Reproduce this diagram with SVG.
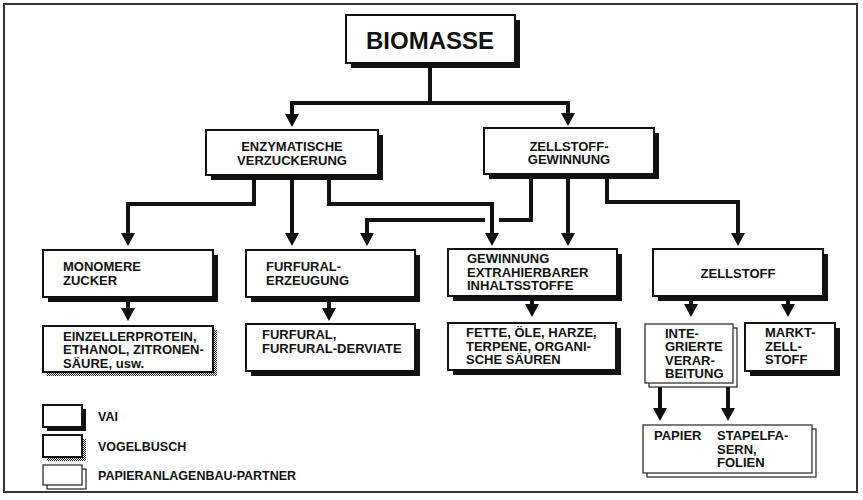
<svg xmlns="http://www.w3.org/2000/svg" width="863" height="500" viewBox="0 0 863 500">
<defs>
<pattern id="dots" width="2" height="2" patternUnits="userSpaceOnUse">
<rect width="2" height="2" fill="#fff"/>
<rect width="1" height="1" fill="#222"/>
<rect x="1" y="1" width="1" height="1" fill="#222"/>
</pattern>
<marker id="ah" markerUnits="userSpaceOnUse" markerWidth="14" markerHeight="14" viewBox="0 -7 14 14" refX="1" refY="0" orient="auto">
<path d="M0,-7 L13,0 L0,7 z" fill="#111"/>
</marker>
<style>
.box{fill:#fff;stroke:#111;stroke-width:2}
.sh{fill:#111}
.dsh{fill:url(#dots)}
.pap{fill:#fff;stroke:#222;stroke-width:1.2}
.t{font-family:"Liberation Sans",Arial,sans-serif;font-weight:bold;font-size:13px;fill:#111}
.m{text-anchor:middle}
.c{fill:none;stroke:#111;stroke-width:4;stroke-linejoin:miter}
</style>
</defs>
<rect x="0" y="0" width="863" height="500" fill="#fff"/>
<rect x="4" y="4" width="853" height="488" fill="none" stroke="#333" stroke-width="2"/>

<g id="connectors">
<path class="c" d="M430,63 V103"/>
<path class="c" d="M430,103 H292 V115" marker-end="url(#ah)"/>
<path class="c" d="M430,103 H568 V114" marker-end="url(#ah)"/>
<path class="c" d="M254,175 V204 H128 V234" marker-end="url(#ah)"/>
<path class="c" d="M292,175 V234" marker-end="url(#ah)"/>
<path class="c" d="M329,175 V204 H492 V234" marker-end="url(#ah)"/>
<path class="c" d="M531,175 V220 H499"/>
<path class="c" d="M485,220 H367 V234" marker-end="url(#ah)"/>
<path class="c" d="M568,175 V234" marker-end="url(#ah)"/>
<path class="c" d="M607,175 V202 H738 V234" marker-end="url(#ah)"/>
<path class="c" d="M128,297 V309" marker-end="url(#ah)"/>
<path class="c" d="M329,297 V309" marker-end="url(#ah)"/>
<path class="c" d="M532,296 V305" marker-end="url(#ah)"/>
<path class="c" d="M691,296 V305" marker-end="url(#ah)"/>
<path class="c" d="M788,296 V305" marker-end="url(#ah)"/>
<path class="c" d="M660,383 V409" marker-end="url(#ah)"/>
<path class="c" d="M728,383 V409" marker-end="url(#ah)"/>
</g>

<g id="biomasse">
<rect class="sh" x="351" y="20" width="169" height="48"/>
<rect class="box" x="346" y="15" width="169" height="48" stroke-width="2.5"/>
<text class="t m" x="430" y="49" style="font-size:24px">BIOMASSE</text>
</g>

<g id="enzymatische">
<rect class="sh" x="211" y="135" width="172" height="45"/>
<rect class="box" x="206" y="130" width="172" height="45"/>
<text class="t m" x="292" y="151">ENZYMATISCHE</text>
<text class="t m" x="292" y="164.5">VERZUCKERUNG</text>
</g>

<g id="zellstoffgewinnung">
<rect class="sh" x="489" y="133" width="170" height="46"/>
<rect class="box" x="484" y="128" width="170" height="46"/>
<text class="t m" x="569" y="150.5">ZELLSTOFF-</text>
<text class="t m" x="569" y="164">GEWINNUNG</text>
</g>

<g id="monomere">
<rect class="sh" x="48" y="255" width="170" height="47"/>
<rect class="box" x="43" y="250" width="170" height="47"/>
<text class="t" x="63" y="270.5">MONOMERE</text>
<text class="t" x="63" y="284.5">ZUCKER</text>
</g>

<g id="furfuralerzeugung">
<rect class="sh" x="251" y="255" width="169" height="47"/>
<rect class="box" x="246" y="250" width="169" height="47"/>
<text class="t" x="266" y="270.5">FURFURAL-</text>
<text class="t" x="266" y="284.5">ERZEUGUNG</text>
</g>

<g id="gewinnung">
<rect class="sh" x="453" y="254" width="169" height="47"/>
<rect class="box" x="448" y="249" width="169" height="47"/>
<text class="t" x="467" y="263">GEWINNUNG</text>
<text class="t" x="467" y="276.5">EXTRAHIERBARER</text>
<text class="t" x="467" y="290">INHALTSSTOFFE</text>
</g>

<g id="zellstoff">
<rect class="sh" x="658" y="254" width="170" height="47"/>
<rect class="box" x="653" y="249" width="170" height="47"/>
<text class="t m" x="738" y="278">ZELLSTOFF</text>
</g>

<g id="einzellerprotein">
<rect class="dsh" x="47" y="330" width="170" height="46"/>
<rect class="box" x="43" y="326" width="170" height="46" stroke-width="1.5"/>
<text class="t" x="63" y="340.5">EINZELLERPROTEIN,</text>
<text class="t" x="63" y="354">ETHANOL, ZITRONEN-</text>
<text class="t" x="63" y="367.5">SÄURE, usw.</text>
</g>

<g id="furfural">
<rect class="sh" x="251" y="329" width="169" height="47"/>
<rect class="box" x="246" y="324" width="169" height="47"/>
<text class="t" x="262" y="339">FURFURAL,</text>
<text class="t" x="262" y="353">FURFURAL-DERVIATE</text>
</g>

<g id="fette">
<rect class="sh" x="453" y="328" width="168" height="47"/>
<rect class="box" x="448" y="323" width="168" height="47"/>
<text class="t" x="466" y="337">FETTE, ÖLE, HARZE,</text>
<text class="t" x="466" y="350.5">TERPENE, ORGANI-</text>
<text class="t" x="466" y="364">SCHE SÄUREN</text>
</g>

<g id="integrierte">
<rect class="pap" x="649" y="328" width="88" height="59"/>
<rect class="pap" x="645" y="324" width="88" height="59"/>
<text class="t" x="665" y="337.5">INTE-</text>
<text class="t" x="665" y="351">GRIERTE</text>
<text class="t" x="665" y="364.5">VERAR-</text>
<text class="t" x="665" y="378">BEITUNG</text>
</g>

<g id="marktzellstoff">
<rect class="sh" x="750" y="328" width="90" height="48"/>
<rect class="box" x="745" y="323" width="90" height="48"/>
<text class="t" x="765" y="337">MARKT-</text>
<text class="t" x="765" y="350.5">ZELL-</text>
<text class="t" x="765" y="364">STOFF</text>
</g>

<g id="papier">
<rect class="pap" x="647" y="429" width="169" height="48"/>
<rect class="pap" x="643" y="425" width="169" height="48"/>
<text class="t" x="654" y="440">PAPIER</text>
<text class="t" x="717" y="440">STAPELFA-</text>
<text class="t" x="717" y="453.5">SERN,</text>
<text class="t" x="717" y="467">FOLIEN</text>
</g>

<g id="legend-vai">
<rect class="sh" x="47" y="409" width="39" height="22"/>
<rect class="box" x="43" y="405" width="39" height="22" stroke-width="1.5"/>
<text class="t" x="98" y="421" style="font-size:12.5px">VAI</text>
</g>
<g id="legend-vogelbusch">
<rect class="dsh" x="47" y="439" width="39" height="22"/>
<rect class="box" x="43" y="435" width="39" height="22" stroke-width="1.5"/>
<text class="t" x="98" y="451" style="font-size:12.5px">VOGELBUSCH</text>
</g>
<g id="legend-papier">
<rect class="pap" x="47" y="469" width="39" height="20"/>
<rect class="pap" x="43" y="465" width="39" height="20"/>
<text class="t" x="98" y="480" style="font-size:12.5px">PAPIERANLAGENBAU-PARTNER</text>
</g>
</svg>
